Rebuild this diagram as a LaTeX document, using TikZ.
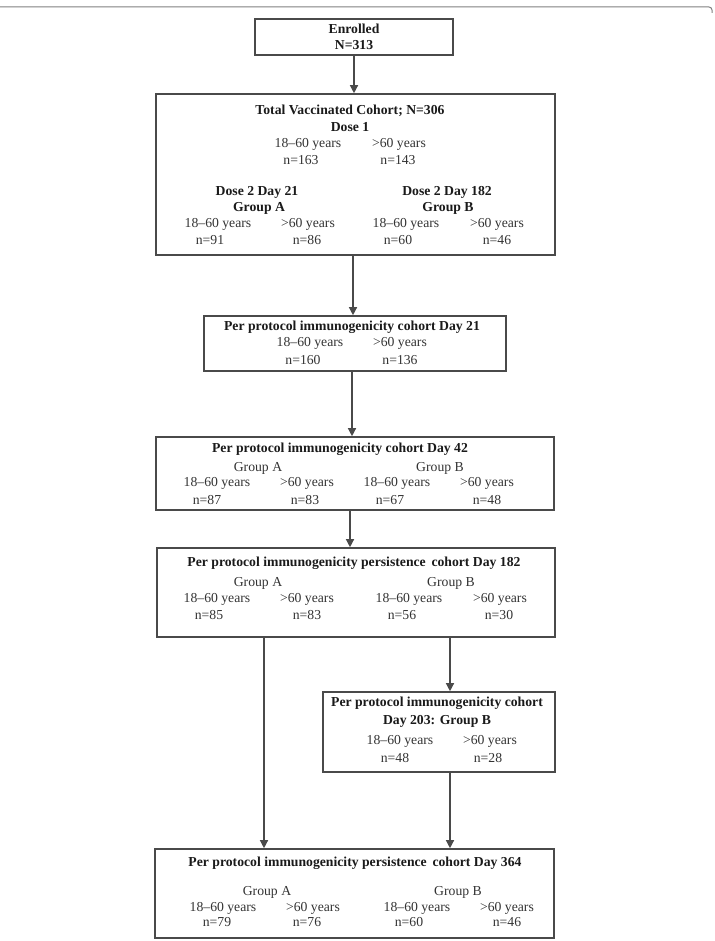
\documentclass[tikz,border=0pt]{standalone}
\usepackage{fontspec}
\setmainfont{Liberation Serif}
\usetikzlibrary{arrows.meta}
\definecolor{linec}{HTML}{4A4A4A}
\definecolor{txtc}{HTML}{333333}
\definecolor{boldc}{HTML}{1A1A1A}
\tikzset{
  box/.style={draw=linec, line width=1.6pt, inner sep=0pt},
  lbl/.style={inner sep=0pt, text=txtc, font=\fontsize{13.7}{15}\selectfont},
  ttl/.style={inner sep=0pt, text=boldc, font=\fontsize{13.7}{15}\selectfont\bfseries},
  arr/.style={draw=linec, line width=1.3pt, -{Triangle[length=8pt,width=8pt]}}
}
\begin{document}
\begin{tikzpicture}[x=1pt,y=-1pt]
\useasboundingbox (0,0) rectangle (714,941);
% frame line
\draw[linec!70, line width=1pt, rounded corners=3pt] (0,7) -- (712,7) -- (712,13);
% boxes
\node[box, minimum width=198pt, minimum height=36pt] (b1) at (354,37) {};
\node[box, minimum width=399pt, minimum height=161pt] (b2) at (355.5,174.5) {};
\node[box, minimum width=302pt, minimum height=55pt] (b3) at (355,343.5) {};
\node[box, minimum width=398pt, minimum height=73pt] (b4) at (355,473.5) {};
\node[box, minimum width=398pt, minimum height=89pt] (b5) at (356,592.5) {};
\node[box, minimum width=232pt, minimum height=80pt] (b6) at (439,732) {};
\node[box, minimum width=399pt, minimum height=89pt] (b7) at (354.5,893.5) {};
% box 1
\node[ttl] (t1a) at (354,29) {Enrolled};
\node[ttl] (t1b) at (354,45) {N=313};
% box 2
\node[ttl] (t2a) at (350,111) {Total Vaccinated Cohort; N=306};
\node[ttl] (t2b) at (350,127) {Dose 1};
\node[lbl] (t2c) at (308,144) {18--60 years};
\node[lbl] (t2d) at (399,144) {>60 years};
\node[lbl] (t2e) at (301,160) {n=163};
\node[lbl] (t2f) at (398,160) {n=143};
\node[ttl] (t2g) at (257,192) {Dose 2 Day 21};
\node[ttl] (t2h) at (259,208) {Group A};
\node[lbl] (t2i) at (218,224) {18--60 years};
\node[lbl] (t2j) at (308,224) {>60 years};
\node[lbl] (t2k) at (210,240) {n=91};
\node[lbl] (t2l) at (307,240) {n=86};
\node[ttl] (t2m) at (447,192) {Dose 2 Day 182};
\node[ttl] (t2n) at (448,208) {Group B};
\node[lbl] (t2o) at (406,224) {18--60 years};
\node[lbl] (t2p) at (497,224) {>60 years};
\node[lbl] (t2q) at (398,240) {n=60};
\node[lbl] (t2r) at (497,240) {n=46};
% box 3
\node[ttl] (t3a) at (352,327) {Per protocol immunogenicity cohort Day 21};
\node[lbl] (t3b) at (310,343) {18--60 years};
\node[lbl] (t3c) at (400,343) {>60 years};
\node[lbl] (t3d) at (303,360) {n=160};
\node[lbl] (t3e) at (400,360) {n=136};
% box 4
\node[ttl] (t4a) at (340,449) {Per protocol immunogenicity cohort Day 42};
\node[lbl] (t4b) at (258,468) {Group A};
\node[lbl] (t4c) at (440,468) {Group B};
\node[lbl] (t4d) at (217,483) {18--60 years};
\node[lbl] (t4e) at (307,483) {>60 years};
\node[lbl] (t4f) at (397,483) {18--60 years};
\node[lbl] (t4g) at (487,483) {>60 years};
\node[lbl] (t4h) at (207,500) {n=87};
\node[lbl] (t4i) at (305,500) {n=83};
\node[lbl] (t4j) at (390,500) {n=67};
\node[lbl] (t4k) at (487,500) {n=48};
% box 5
\node[ttl] (t5a) at (354,563) {Per protocol immunogenicity persistence\, cohort Day 182};
\node[lbl] (t5b) at (258,583) {Group A};
\node[lbl] (t5c) at (451,583) {Group B};
\node[lbl] (t5d) at (217,599) {18--60 years};
\node[lbl] (t5e) at (307,599) {>60 years};
\node[lbl] (t5f) at (409,599) {18--60 years};
\node[lbl] (t5g) at (500,599) {>60 years};
\node[lbl] (t5h) at (209,615) {n=85};
\node[lbl] (t5i) at (307,615) {n=83};
\node[lbl] (t5j) at (402,615) {n=56};
\node[lbl] (t5k) at (499,615) {n=30};
% box 6
\node[ttl] (t6a) at (437,703) {Per protocol immunogenicity cohort};
\node[ttl] (t6b) at (437,721) {Day 203: Group B};
\node[lbl] (t6c) at (400,741) {18--60 years};
\node[lbl] (t6d) at (490,741) {>60 years};
\node[lbl] (t6e) at (395,758) {n=48};
\node[lbl] (t6f) at (488,758) {n=28};
% box 7
\node[ttl] (t7a) at (355,863) {Per protocol immunogenicity persistence\, cohort Day 364};
\node[lbl] (t7b) at (267,892) {Group A};
\node[lbl] (t7c) at (458,892) {Group B};
\node[lbl] (t7d) at (223,908) {18--60 years};
\node[lbl] (t7e) at (313,908) {>60 years};
\node[lbl] (t7f) at (417,908) {18--60 years};
\node[lbl] (t7g) at (507,908) {>60 years};
\node[lbl] (t7h) at (217,922) {n=79};
\node[lbl] (t7i) at (307,922) {n=76};
\node[lbl] (t7j) at (409,922) {n=60};
\node[lbl] (t7k) at (507,922) {n=46};
% connectors
\coordinate (c12) at (354,55);
\coordinate (c23) at (353,255);
\coordinate (c34) at (352,371);
\coordinate (c45) at (350,510);
\coordinate (c57) at (264,637);
\coordinate (c56) at (450,637);
\coordinate (c67) at (450,772);
\draw[arr] (c12) -- (c12 |- b2.north);
\draw[arr] (c23) -- (c23 |- b3.north);
\draw[arr] (c34) -- (c34 |- b4.north);
\draw[arr] (c45) -- (c45 |- b5.north);
\draw[arr] (c57) -- (c57 |- b7.north);
\draw[arr] (c56) -- (c56 |- b6.north);
\draw[arr] (c67) -- (c67 |- b7.north);
\end{tikzpicture}
\end{document}
